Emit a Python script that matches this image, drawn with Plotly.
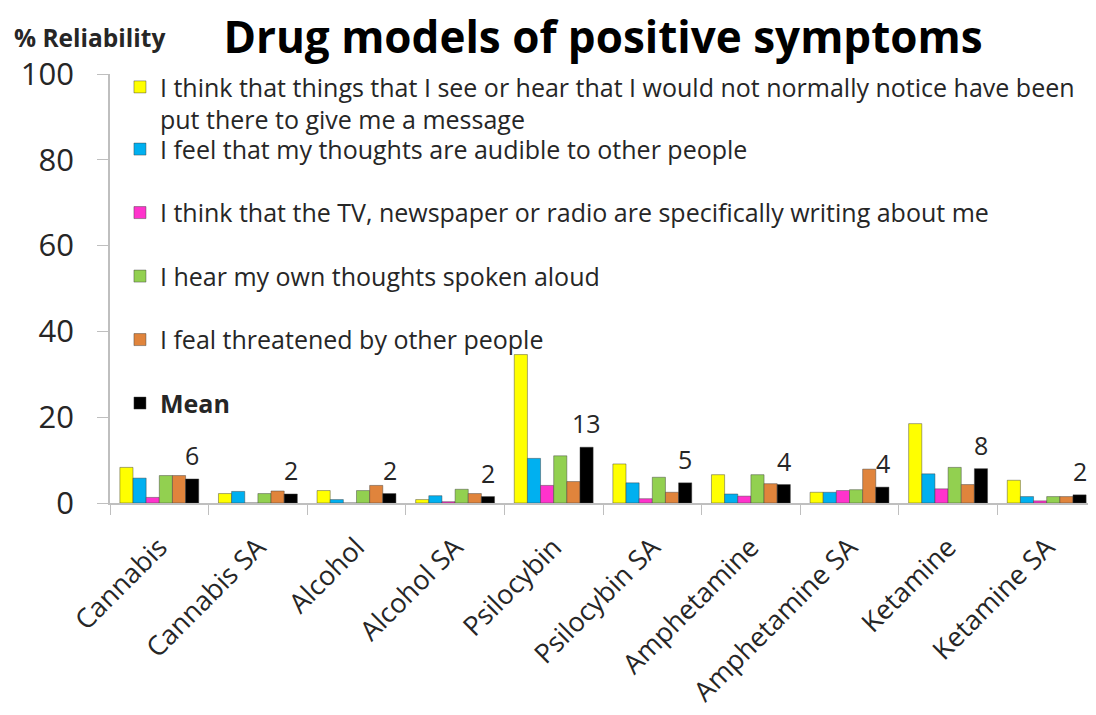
import plotly.graph_objects as go

categories = ["Cannabis", "Cannabis SA", "Alcohol", "Alcohol SA", "Psilocybin",
              "Psilocybin SA", "Amphetamine", "Amphetamine SA", "Ketamine", "Ketamine SA"]

series_names = [
    "I think that things that I see or hear that I would not normally notice have been<br>put there to give me a message",
    "I feel that my thoughts are audible to other people",
    "I think that the TV, newspaper or radio are specifically writing about me",
    "I hear my own thoughts spoken aloud",
    "I feal threatened by other people",
    "<b>Mean</b>",
]

message = [8.3, 2.2, 2.9, 0.8, 34.6, 9.1, 6.6, 2.5, 18.5, 5.3]
audible = [5.8, 2.7, 0.8, 1.7, 10.4, 4.7, 2.1, 2.5, 6.8, 1.5]
tv_radio = [1.3, 0.0, 0.0, 0.3, 4.1, 1.0, 1.6, 2.9, 3.3, 0.5]
spoken = [6.4, 2.2, 2.9, 3.2, 11.0, 6.0, 6.6, 3.1, 8.3, 1.5]
threatened = [6.4, 2.8, 4.1, 2.2, 5.0, 2.5, 4.5, 7.9, 4.3, 1.5]
mean = [5.6, 2.1, 2.2, 1.5, 13.0, 4.7, 4.3, 3.7, 8.0, 1.9]
mean_labels = ["6", "2", "2", "2", "13", "5", "4", "4", "8", "2"]

y_ticks = [0, 20, 40, 60, 80, 100]

colors = ["#FFFF00", "#00B0F0", "#FF33CC", "#92D050", "#E0843C", "#000000"]
values = [message, audible, tv_radio, spoken, threatened, mean]

FONT = "Open Sans"
TXT = "#262626"

fig = go.Figure()
for i, (name, vals, col) in enumerate(zip(series_names, values, colors)):
    fig.add_trace(go.Bar(
        x=categories, y=vals, name=name,
        marker=dict(color=col, line=dict(color="rgba(60,60,60,0.45)", width=1)),
        legend="legend" if i == 0 else "legend2",
        legendgroup=f"g{i}",
        showlegend=True,
    ))

# labels over Mean bars
for cat, m, lab in zip(categories, mean, mean_labels):
    fig.add_annotation(x=cat, y=m, text=lab, xref="x", yref="y",
                       showarrow=False, xanchor="center", yanchor="bottom",
                       xshift=33, yshift=5,
                       font=dict(family=FONT, size=25, color=TXT))

fig.add_annotation(x=-0.0994, y=1.086, xref="paper", yref="paper",
                   text="<b>% Reliability</b>", showarrow=False,
                   xanchor="left", yanchor="middle",
                   font=dict(family=FONT, size=24.5, color=TXT))

fig.update_layout(
    width=1096, height=715,
    margin=dict(l=102, r=8, t=66, b=220),
    paper_bgcolor="white", plot_bgcolor="white",
    showlegend=True,
    barmode="group", bargap=0.2, bargroupgap=0,
    title=dict(text="<b>Drug models of positive symptoms</b>",
               x=0.5, xref="paper", xanchor="center",
               y=0.958, yref="container", yanchor="middle",
               font=dict(family=FONT, size=44, color="black")),
    font=dict(family=FONT, color=TXT),
    legend=dict(x=0.0101, y=1.023, xanchor="left", yanchor="top",
                font=dict(family=FONT, size=25, color=TXT),
                bgcolor="rgba(0,0,0,0)", valign="top"),
    legend2=dict(x=0.0101, y=0.878, xanchor="left", yanchor="top",
                 font=dict(family=FONT, size=25, color=TXT),
                 bgcolor="rgba(0,0,0,0)", tracegroupgap=28),
    xaxis=dict(showline=True, linecolor="#BFBFBF", linewidth=1.5,
               ticks="outside", tickson="boundaries", ticklen=10,
               tickcolor="#BFBFBF", tickangle=-45, automargin=False,
               ticklabelstandoff=16,
               tickfont=dict(family=FONT, size=27, color=TXT)),
    yaxis=dict(range=[0, 100], tickvals=y_ticks, showgrid=False, zeroline=False,
               showline=True, linecolor="#BFBFBF", linewidth=1.5,
               ticks="outside", ticklen=11, tickcolor="#BFBFBF", automargin=False,
               ticklabelstandoff=17,
               tickfont=dict(family=FONT, size=31, color=TXT)),
)

fig.write_html("out.html")
